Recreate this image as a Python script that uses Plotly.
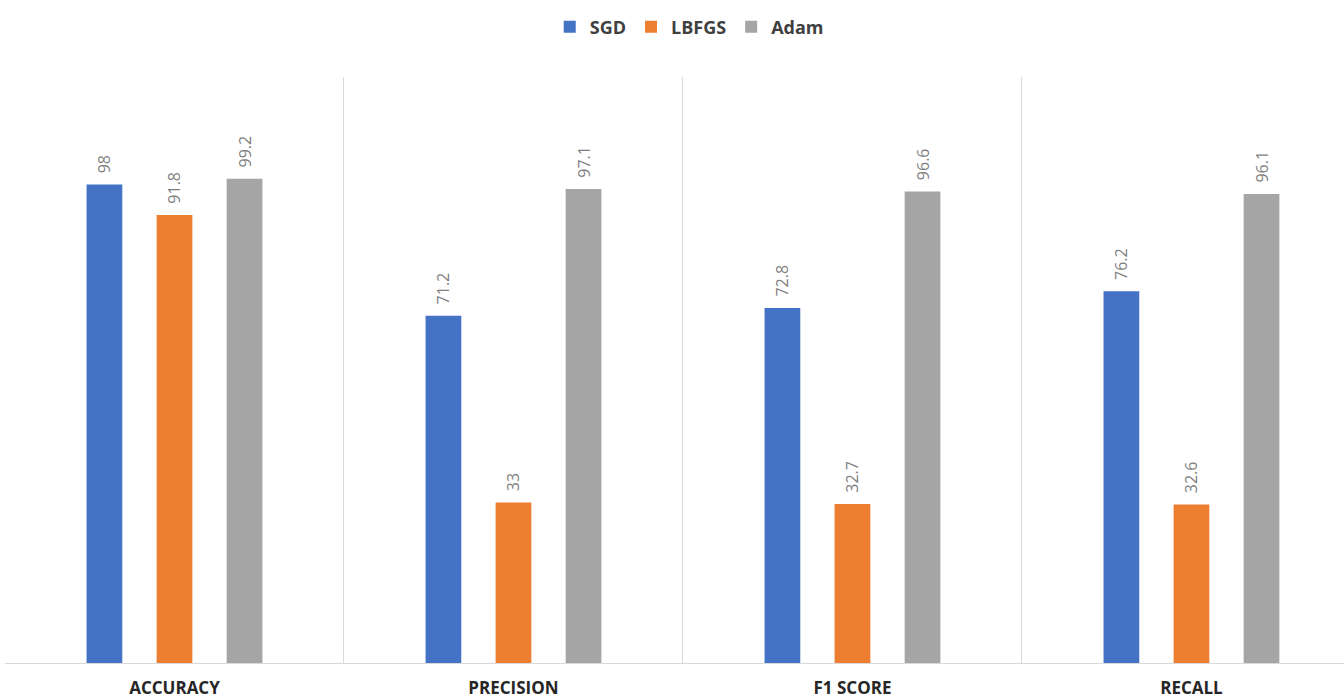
import plotly.graph_objects as go

categories = ["ACCURACY", "PRECISION", "F1 SCORE", "RECALL"]
sgd = [98, 71.2, 72.8, 76.2]
lbfgs = [91.8, 33, 32.7, 32.6]
adam = [99.2, 97.1, 96.6, 96.1]

series = [("SGD", sgd, "#4472C4"), ("LBFGS", lbfgs, "#ED7D31"), ("Adam", adam, "#A5A5A5")]

fig = go.Figure()
xs = list(range(len(categories)))
for name, vals, color in series:
    fig.add_trace(go.Bar(
        name=name, x=xs, y=vals, marker=dict(color=color, line=dict(width=0)),
        text=[str(v) for v in vals],
        texttemplate="\u00a0\u00a0%{text}",
        textposition="outside", textangle=-90, constraintext="none",
        textfont=dict(family="Open Sans", size=16, color="#7F7F7F"),
        cliponaxis=False,
    ))

fig.update_layout(
    width=1344, height=699,
    margin=dict(l=5, r=0, t=77, b=35),
    paper_bgcolor="white", plot_bgcolor="white",
    barmode="group", bargap=0.38, bargroupgap=0.49,
    showlegend=True,
    legend=dict(orientation="h", x=0.511, xanchor="center", y=1.085, yanchor="middle",
                font=dict(family="Open Sans", size=18, color="#404040", weight="bold"),
                itemwidth=30, traceorder="normal"),
    xaxis=dict(range=[-0.5, 3.45], tickmode="array", tickvals=xs, ticktext=categories,
               showgrid=False, zeroline=False, showline=False, ticks="",
               ticklabelstandoff=12,
               tickfont=dict(family="Open Sans", size=17, color="#262626", weight="bold"),
               minor=dict(tickmode="array", tickvals=[0.5, 1.5, 2.5], showgrid=True,
                          gridcolor="#D9D9D9", gridwidth=1, ticks="")),
    yaxis=dict(range=[0, 120], showgrid=False, zeroline=False, showticklabels=False,
               showline=False, ticks=""),
    font=dict(family="Open Sans"),
)
fig.add_hline(y=0, line=dict(color="#D9D9D9", width=2), layer="above")

fig.write_html("out.html")
